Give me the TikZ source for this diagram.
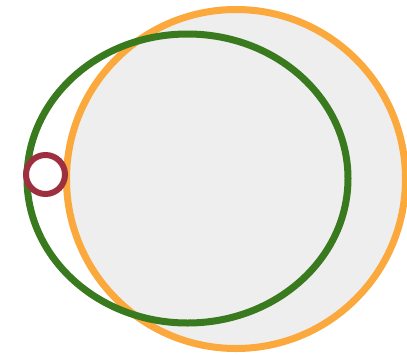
\documentclass[tikz,border=0pt]{standalone}
\definecolor{orng}{HTML}{FBA83C}
\definecolor{grn}{HTML}{3A7A1E}
\definecolor{rd}{HTML}{9E2F3F}
\definecolor{lgray}{HTML}{EEEEEE}
\tikzset{
  bigcirc/.style={draw=orng,fill=lgray,line width=7pt},
  ell/.style={draw=grn,line width=7pt},
  smallcirc/.style={draw=rd,fill=white,line width=6pt}
}
\begin{document}
\begin{tikzpicture}[x=1pt,y=-1pt]
\useasboundingbox (0,0) rectangle (407,357);
\path[bigcirc] (236,179) circle[radius=169.5];
\path[ell] (187.5,178.5) ellipse[x radius=160.5,y radius=144.5];
\path[smallcirc] (45.5,174.5) circle[radius=19.5];
\end{tikzpicture}
\end{document}
